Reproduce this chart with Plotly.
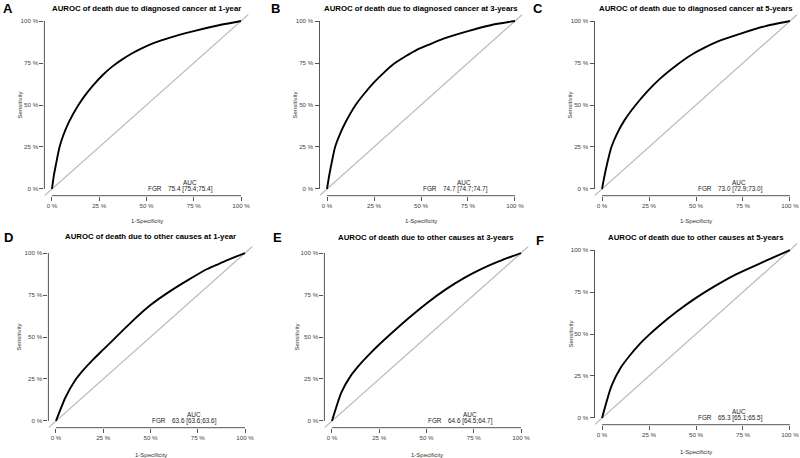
import plotly.graph_objects as go

W, H = 800, 458

# ---------------- data ----------------
panel_letters = ["A", "B", "C", "D", "E", "F"]
panel_titles = [
    "AUROC of death due to diagnosed cancer at 1-year",
    "AUROC of death due to diagnosed cancer at 3-years",
    "AUROC of death due to diagnosed cancer at 5-years",
    "AUROC of death due to other causes at 1-year",
    "AUROC of death due to other causes at 3-years",
    "AUROC of death due to other causes at 5-years",
]
model_name = "FGR"
auc_labels = [
    "75.4 [75.4;75.4]",
    "74.7 [74.7;74.7]",
    "73.0 [72.9;73.0]",
    "63.6 [63.6;63.6]",
    "64.6 [64.5;64.7]",
    "65.3 [65.1;65.5]",
]

fpr_a = [0, 0.01, 0.02, 0.04, 0.06, 0.09, 0.14, 0.18, 0.22, 0.27, 0.32, 0.37, 0.42, 0.48, 0.54, 0.62, 0.75, 0.87, 1.0]
tpr_a = [0, 0.08, 0.14, 0.25, 0.32, 0.40, 0.50, 0.565, 0.62, 0.68, 0.73, 0.77, 0.805, 0.84, 0.87, 0.90, 0.94, 0.972, 1.0]

fpr_b = [0, 0.01, 0.02, 0.043, 0.07, 0.10, 0.152, 0.20, 0.25, 0.30, 0.356, 0.418, 0.48, 0.543, 0.62, 0.75, 0.87, 1.0]
tpr_b = [0, 0.07, 0.13, 0.25, 0.33, 0.40, 0.50, 0.57, 0.635, 0.69, 0.745, 0.79, 0.83, 0.86, 0.895, 0.94, 0.975, 1.0]

fpr_c = [0, 0.01, 0.025, 0.05, 0.08, 0.12, 0.179, 0.24, 0.312, 0.40, 0.47, 0.543, 0.62, 0.75, 0.87, 1.0]
tpr_c = [0, 0.06, 0.14, 0.25, 0.33, 0.41, 0.50, 0.58, 0.66, 0.74, 0.795, 0.84, 0.88, 0.93, 0.97, 1.0]

fpr_other = [0, 0.05, 0.1, 0.15, 0.2, 0.25, 0.3, 0.4, 0.5, 0.6, 0.7, 0.8, 0.85, 0.9, 1.0]
tpr_d = [0, 0.14, 0.24, 0.31, 0.37, 0.425, 0.48, 0.59, 0.69, 0.77, 0.84, 0.905, 0.93, 0.955, 1.0]
tpr_e = [0, 0.17, 0.27, 0.34, 0.40, 0.455, 0.507, 0.607, 0.70, 0.782, 0.852, 0.91, 0.935, 0.958, 1.0]
tpr_f = [0, 0.19, 0.30, 0.375, 0.44, 0.495, 0.545, 0.635, 0.715, 0.785, 0.848, 0.90, 0.925, 0.95, 1.0]

curves_x = [fpr_a, fpr_b, fpr_c, fpr_other, fpr_other, fpr_other]
curves_y = [tpr_a, tpr_b, tpr_c, tpr_d, tpr_e, tpr_f]

tick_vals = [0, 0.25, 0.5, 0.75, 1.0]
tick_text = ["0 %", "25 %", "50 %", "75 %", "100 %"]

# ---------------- layout geometry (pixels: left, right, top, bottom of plot region) ----------------
regions = [
    (44.4, 248.6, 14.3, 195.7),
    (319.5, 522.5, 14.3, 195.7),
    (594.5, 797.5, 14.3, 195.7),
    (48.4, 252.6, 246.3, 427.7),
    (324.4, 528.6, 246.3, 427.7),
    (594.5, 797.5, 243.3, 424.7),
]
title_y = [9, 9, 9, 236, 237, 237]
letter_pos = [(8, 9), (275, 9), (538, 9), (8, 237), (277, 237), (540, 240)]
ytitle_off = [24, 25, 25, 29, 27, 24]
xtitle_off = [25, 25, 25, 27, 27, 27]

FONT = "Liberation Sans, Arial, sans-serif"
fig = go.Figure()
annotations = []
shapes = []
rng = [-0.04, 1.04]

for i in range(6):
    k = "" if i == 0 else str(i + 1)
    xa, ya = "x" + k, "y" + k
    l, r, t, b = regions[i]
    fig.add_trace(go.Scatter(x=[-0.04, 1.04], y=[-0.04, 1.04], mode="lines",
                             line=dict(color="#bdbdbd", width=1.3),
                             xaxis=xa, yaxis=ya, showlegend=False, hoverinfo="skip"))
    fig.add_trace(go.Scatter(x=curves_x[i], y=curves_y[i], mode="lines",
                             line=dict(color="black", width=1.9, shape="spline", smoothing=0.6),
                             xaxis=xa, yaxis=ya, showlegend=False))
    axis_common = dict(range=rng, tickvals=tick_vals, ticktext=tick_text, ticks="outside",
                       ticklen=4, tickwidth=1, tickcolor="#555", showgrid=False, zeroline=False,
                       showline=False, automargin=False,
                       tickfont=dict(size=6.2, color="#444", family=FONT))
    fig.update_layout(**{
        "xaxis" + k: dict(domain=[l / W, r / W], anchor=ya, **axis_common),
        "yaxis" + k: dict(domain=[1 - b / H, 1 - t / H], anchor=xa, **axis_common),
    })
    # R-style axis lines spanning 0..1
    shapes.append(dict(type="line", xref=xa, yref=ya + " domain", x0=0, x1=1, y0=0, y1=0,
                       line=dict(color="#555", width=1)))
    shapes.append(dict(type="line", xref=xa + " domain", yref=ya, x0=0, x1=0, y0=0, y1=1,
                       line=dict(color="#555", width=1)))
    # titles
    annotations.append(dict(text="<b>" + panel_titles[i] + "</b>", xref="paper", yref="paper",
                            x=(l + r) / 2 / W, y=1 - title_y[i] / H, showarrow=False,
                            font=dict(size=7.8, color="black", family=FONT),
                            xanchor="center", yanchor="middle"))
    lx, ly = letter_pos[i]
    annotations.append(dict(text="<b>" + panel_letters[i] + "</b>", xref="paper", yref="paper",
                            x=lx / W, y=1 - ly / H, showarrow=False,
                            font=dict(size=13, color="black", family=FONT),
                            xanchor="center", yanchor="middle"))
    # axis titles
    annotations.append(dict(text="1-Specificity", xref=xa, yref=ya + " domain", x=0.5, y=0,
                            yshift=-xtitle_off[i], showarrow=False,
                            font=dict(size=6, color="#333", family=FONT),
                            xanchor="center", yanchor="middle"))
    annotations.append(dict(text="Sensitivity", xref=xa + " domain", yref=ya, x=0, y=0.5,
                            xshift=-ytitle_off[i], showarrow=False, textangle=-90,
                            font=dict(size=6, color="#333", family=FONT),
                            xanchor="center", yanchor="middle"))
    # AUC legend
    annotations.append(dict(text="AUC", xref=xa, yref=ya, x=0.73, y=0.04, showarrow=False,
                            font=dict(size=6.4, color="#222", family=FONT),
                            xanchor="center", yanchor="middle"))
    annotations.append(dict(text=auc_labels[i], xref=xa, yref=ya, x=0.735, y=0.0, showarrow=False,
                            font=dict(size=6.4, color="#222", family=FONT),
                            xanchor="center", yanchor="middle"))
    annotations.append(dict(text=model_name, xref=xa, yref=ya, x=0.595, y=0.0, showarrow=False,
                            font=dict(size=6.4, color="#222", family=FONT),
                            xanchor="right", yanchor="middle"))

fig.update_layout(width=W, height=H, margin=dict(l=0, r=0, t=0, b=0),
                  paper_bgcolor="white", plot_bgcolor="white",
                  annotations=annotations, shapes=shapes, font=dict(family=FONT))
fig.write_html("out.html", config={"displayModeBar": False},
               post_script="document.body.style.margin='0';document.body.style.overflow='hidden';")
